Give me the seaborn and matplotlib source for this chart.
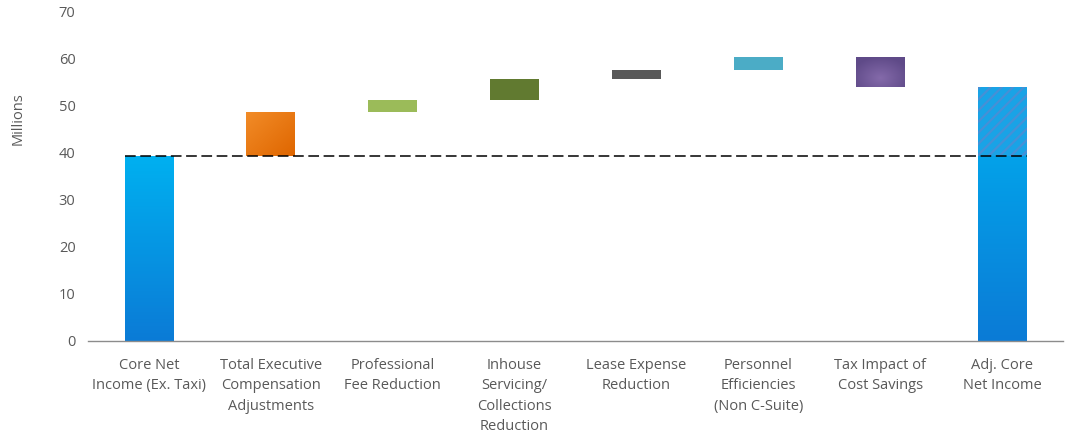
import numpy as np
import pandas as pd
import matplotlib
matplotlib.use("Agg")
import matplotlib.pyplot as plt
import seaborn as sns
from matplotlib.colors import LinearSegmentedColormap

categories = [
    "Core Net\nIncome (Ex. Taxi)",
    "Total Executive\nCompensation\nAdjustments",
    "Professional\nFee Reduction",
    "Inhouse\nServicing/\nCollections\nReduction",
    "Lease Expense\nReduction",
    "Personnel\nEfficiencies\n(Non C-Suite)",
    "Tax Impact of\nCost Savings",
    "Adj. Core\nNet Income",
]
# step changes (millions); first is the starting total, last total is computed
changes = [39.3, 9.5, 2.5, 4.4, 2.0, 2.7, -6.3]
colors = ["#00A9EE", "#EE7A1A", "#9BBB59", "#617A30", "#595959", "#4BACC6", "#7A62A0", "#00A9EE"]
gradients = {
    0: ("#00B0F0", "#0B7BD6"),
    1: ("#F28C28", "#DF6600"),
    6: ("#846AAA", "#5F4A88"),
    7: ("#00B0F0", "#0B7BD6"),
}

running = np.cumsum(changes)
total = running[-1]
bottoms = [0.0]
heights = [changes[0]]
for i in range(1, len(changes)):
    lo = min(running[i - 1], running[i])
    bottoms.append(lo)
    heights.append(abs(changes[i]))
bottoms.append(0.0)
heights.append(total)

df = pd.DataFrame({"cat": categories, "height": heights, "bottom": bottoms})

sns.set_style("white")
plt.rcParams["font.family"] = ["Open Sans", "DejaVu Sans"]

fig = plt.figure(figsize=(10.76, 4.36), dpi=100)
ax = fig.add_axes([0.0818, 0.218, 0.9062, 0.7545])

sns.barplot(data=df, x="cat", y="height", color=colors[0],
            bottom=df["bottom"].values, width=0.4, ax=ax,
            linewidth=0, saturation=1, errorbar=None)

for patch, c in zip(ax.patches, colors):
    patch.set_facecolor(c)

# gradient fills clipped to bars
for i, (c_a, c_b) in gradients.items():
    patch = ax.patches[i]
    px, py = patch.get_x(), patch.get_y()
    w, h = patch.get_width(), patch.get_height()
    cmap = LinearSegmentedColormap.from_list("g%d" % i, [c_b, c_a])
    gy = np.linspace(0, 1, 100).reshape(-1, 1)
    gx = np.linspace(0, 1, 60).reshape(1, -1)
    if i == 1:
        grad = gy * 0.5 + (1 - gx) * 0.5
    elif i == 6:
        # lighter in the middle, darker toward the edges
        grad = 1 - np.sqrt(((gx - 0.5) * 1.6) ** 2 + ((gy - 0.3) * 1.4) ** 2)
        grad = np.clip(grad, 0, 1)
    else:
        grad = gy
    im = ax.imshow(grad, cmap=cmap, origin="lower", aspect="auto",
                   extent=[px, px + w, py, py + h], zorder=patch.get_zorder(),
                   vmin=0, vmax=1)
    im.set_clip_path(patch)

# hatched upper part of last bar
plt.rcParams["hatch.color"] = "#4690D6"
plt.rcParams["hatch.linewidth"] = 1.6
ax.bar(7, total - changes[0], bottom=changes[0], width=0.4, color="#19A3E6",
       edgecolor="#4690D6", hatch="///", linewidth=0, zorder=3)

# baseline dashed line
ax.plot([0 - 0.2, 7 + 0.2], [changes[0], changes[0]], color="black",
        linestyle=(0, (7, 3)), linewidth=1.1, zorder=4)

ax.set_xlim(-0.5, 7.5)
ax.set_ylim(0, 70)
ax.set_yticks(np.arange(0, 71, 10))
ax.set_xlabel("")
ax.set_ylabel("Millions", color="#595959", fontsize=10.5)
ax.yaxis.set_label_coords(-0.064, 0.675)

for s in ["top", "right", "left"]:
    ax.spines[s].set_visible(False)
ax.spines["bottom"].set_color("#8C8C8C")
ax.spines["bottom"].set_linewidth(1)

ax.set_xticks(range(len(categories)))
ax.set_xticklabels(categories, linespacing=1.5)
ax.set_xticks(np.arange(-0.5, 8, 1), minor=True)
ax.tick_params(axis="x", which="major", length=0, pad=12, labelsize=10.5, labelcolor="#595959")
ax.tick_params(axis="x", which="minor", length=5, color="#8C8C8C", direction="out")
ax.tick_params(axis="y", length=0, pad=9, labelsize=10.5, labelcolor="#595959")
ax.grid(False)

fig.savefig("out.png", dpi=100)
